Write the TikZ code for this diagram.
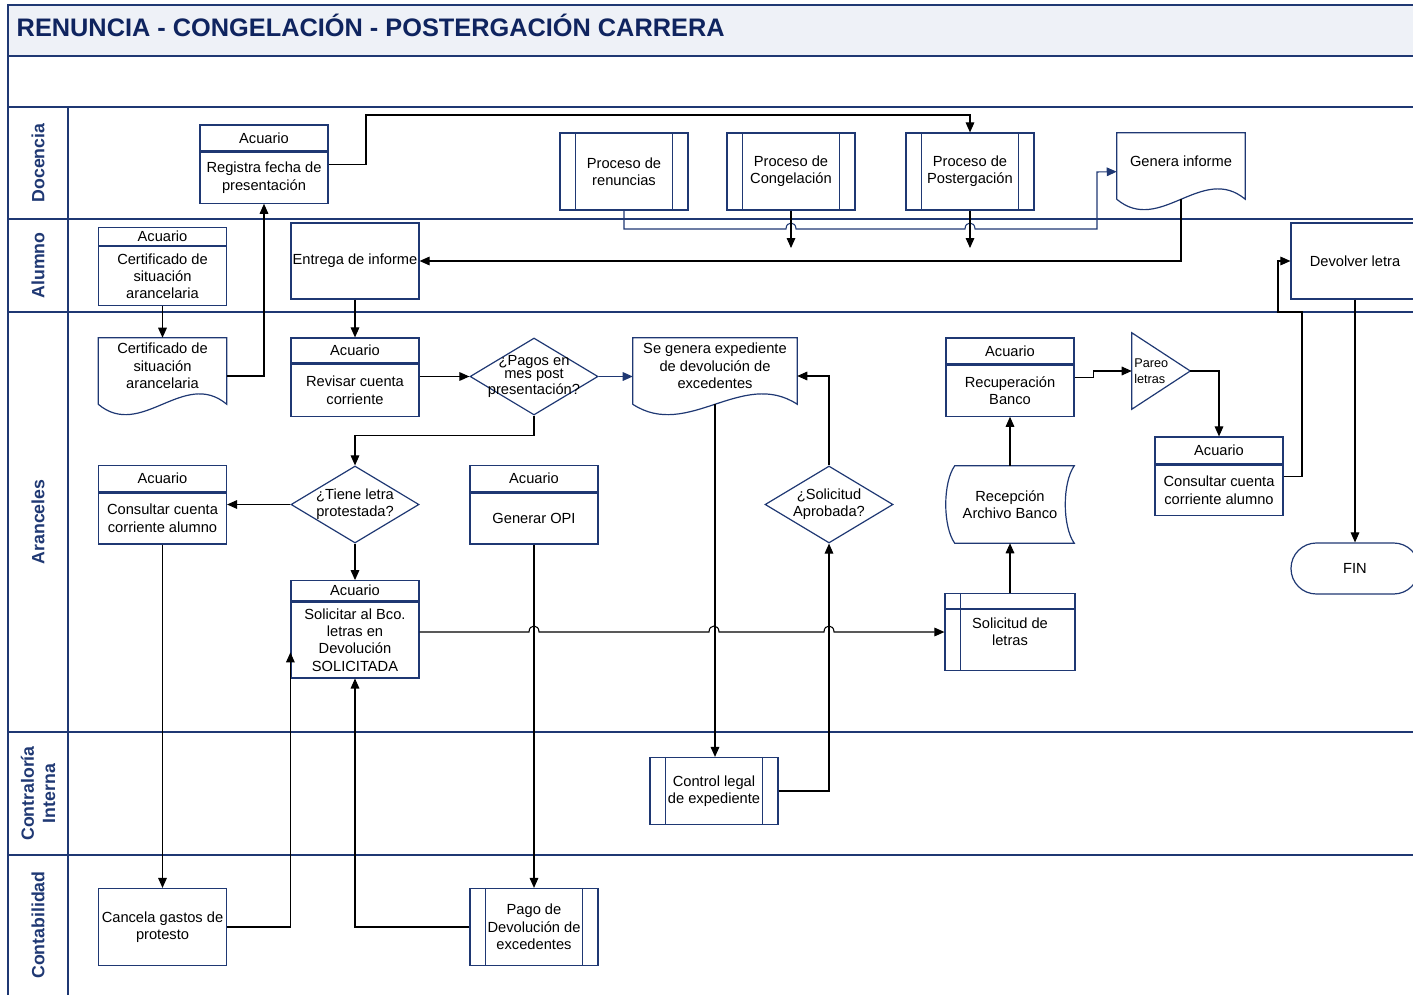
\documentclass[tikz,border=0pt]{standalone}
\usepackage{fontspec}
\setmainfont{Liberation Sans}
\usetikzlibrary{positioning,shapes.geometric,arrows.meta,calc}
\definecolor{navy}{RGB}{31,56,115}
\definecolor{titlebg}{RGB}{238,241,247}
\definecolor{titletxt}{RGB}{15,36,95}

\begin{document}
\begin{tikzpicture}[
		x=0.75pt, y=-0.75pt,
		every node/.style={font=\fontsize{11}{13}\selectfont, align=center},
		lane/.style={draw=navy, line width=1.1pt},
		lanelabel/.style={rotate=90, text=navy, font=\bfseries\fontsize{13.3}{16}\selectfont},
		shp/.style={draw=navy, line width=0.9pt},
		box/.style={shp, fill=white, minimum width=96pt, inner sep=1pt},
		hdr/.style={box, inner sep=0pt},
		proc/.style={box, minimum height=57.75pt, append after command={
				([xshift=12pt]\tikzlastnode.north west) edge[shp] ([xshift=12pt]\tikzlastnode.south west)
				([xshift=-12pt]\tikzlastnode.north east) edge[shp] ([xshift=-12pt]\tikzlastnode.south east)}},
		doc/.style={minimum width=96pt, minimum height=42pt, inner sep=1pt},
		dec/.style={diamond, shp, fill=white, minimum width=96pt, minimum height=57.75pt, inner sep=0pt},
		arr/.style={line width=0.8pt, -{Triangle[length=7.5pt,width=6.5pt]}}
	]
	\useasboundingbox (0,0) rectangle (1413,995);
	\fill[titlebg] (8,5) rectangle (1420,56);
	\draw[lane] (1420,5) -- (8,5) -- (8,1000)
		(8,56) -- (1420,56)
		(8,107) -- (1420,107)
		(8,219) -- (1420,219)
		(8,312) -- (1420,312)
		(8,732) -- (1420,732)
		(8,855) -- (1420,855)
		(68,107) -- (68,1000);
	\node[anchor=base west, align=left, text=titletxt, font=\bfseries\fontsize{19}{22}\selectfont] (title) at (12,37) {RENUNCIA - CONGELACIÓN - POSTERGACIÓN CARRERA};
	\node[lanelabel] (l-doc) at (38,163) {Docencia};
	\node[lanelabel] (l-alu) at (38,265.5) {Alumno};
	\node[lanelabel] (l-ara) at (38,522) {Aranceles};
	\node[lanelabel] (l-con) at (38,793.5) {Contraloría\\Interna};
	\node[lanelabel] (l-cnt) at (38,925) {Contabilidad};

	\node[hdr, minimum height=19.5pt] (reg-h) at (264,138) {Acuario};
	\node[box, minimum height=38.25pt, below=0pt of reg-h] (reg) {Registra fecha de\\presentación};
	\node[proc] (p1) at (624,171.5) {Proceso de\\renuncias};
	\node[proc] (p2) at (791,171.5) {Proceso de\\Congelación};
	\node[proc] (p3) at (970,171.5) {Proceso de\\Postergación};
	\node[doc] (gen) at (1181,161) {Genera informe};
	\draw[shp] ([yshift=-7.5pt]gen.south west) -- (gen.north west) -- (gen.north east) -- ([yshift=-7.5pt]gen.south east) .. controls +(-43,-36) and +(43,36) .. ([yshift=-7.5pt]gen.south west);
	\coordinate (p2-end) at (791,248);
	\coordinate (p3-end) at (970,248);

	\node[hdr, minimum height=13.5pt] (cert1-h) at (162.5,236.5) {Acuario};
	\node[box, minimum height=44.25pt, below=0pt of cert1-h] (cert1) {Certificado de\\situación\\arancelaria};
	\node[box, minimum height=57pt] (ent) at (355,261) {Entrega de informe};
	\node[box, minimum height=57pt] (dev) at (1355,261) {Devolver letra};

	\node[doc] (cert2) at (162.5,366) {Certificado de\\situación\\arancelaria};
	\draw[shp] ([yshift=-7.5pt]cert2.south west) -- (cert2.north west) -- (cert2.north east) -- ([yshift=-7.5pt]cert2.south east) .. controls +(-43,-36) and +(43,36) .. ([yshift=-7.5pt]cert2.south west);
	\node[hdr, minimum height=18.75pt] (rev-h) at (355,350.5) {Acuario};
	\node[box, minimum height=39pt, below=0pt of rev-h] (rev) {Revisar cuenta\\corriente};
	\node[dec] (pagos) at (534,376.5) {};
	\node[font=\fontsize{11}{9.75}\selectfont] (pagos-t) at (pagos) {¿Pagos en\\mes post\\presentación?};
	\node[doc, minimum width=123pt] (exp) at (715,366) {Se genera expediente\\de devolución de\\excedentes};
	\draw[shp] ([yshift=-7.5pt]exp.south west) -- (exp.north west) -- (exp.north east) -- ([yshift=-7.5pt]exp.south east) .. controls +(-55,-36) and +(55,36) .. ([yshift=-7.5pt]exp.south west);
	\node[dec] (tiene) at (355,504.5) {};
	\node (tiene-t) at (tiene) {¿Tiene letra\\protestada?};
	\node[hdr, minimum height=19.5pt] (cons1-h) at (162.5,478.7) {Acuario};
	\node[box, minimum height=38.25pt, below=0pt of cons1-h] (cons1) {Consultar cuenta\\corriente alumno};
	\node[hdr, minimum height=19.5pt] (opi-h) at (534,478.7) {Acuario};
	\node[box, minimum height=38.25pt, below=0pt of opi-h] (opi) {Generar OPI};
	\node[hdr, minimum height=15pt] (sol-h) at (355,590.7) {Acuario};
	\node[box, minimum height=57pt, below=0pt of sol-h] (sol) {Solicitar al Bco.\\letras en\\Devolución\\SOLICITADA};
	\node[dec] (solap) at (829,504.5) {};
	\node (solap-t) at (solap) {¿Solicitud\\Aprobada?};
	\node[hdr, minimum height=19.5pt] (recup-h) at (1010,351) {Acuario};
	\node[box, minimum height=38.25pt, below=0pt of recup-h] (recup) {Recuperación\\Banco};
	\node[minimum width=96pt, minimum height=57.75pt] (recep) at (1010,504.5) {Recepción\\Archivo Banco};
	\draw[shp] ([xshift=6.75pt]recep.north west) -- (recep.north east) .. controls +(-12,17) and +(-12,-17) .. (recep.south east) -- ([xshift=6.75pt]recep.south west) .. controls +(-12,-17) and +(-12,17) .. ([xshift=6.75pt]recep.north west) -- cycle;
	\node[box, minimum width=97.5pt, minimum height=57.75pt] (sol2) at (1010,632) {Solicitud de\\letras};
	\draw[shp] ([xshift=12pt]sol2.north west) -- ([xshift=12pt]sol2.south west)
		([yshift=-12pt]sol2.north west) -- ([yshift=-12pt]sol2.north east);
	\node[minimum width=43.5pt, minimum height=57pt, inner sep=1.5pt, text width=40pt, align=left, font=\fontsize{9.5}{12}\selectfont] (pareo) at (1161,371) {Pareo\\letras};
	\draw[shp] (pareo.north west) -- (pareo.east) -- (pareo.south west) -- cycle;
	\node[hdr, minimum height=20.25pt] (cons2-h) at (1219,450.5) {Acuario};
	\node[box, minimum height=37.5pt, below=0pt of cons2-h] (cons2) {Consultar cuenta\\corriente alumno};
	\node[box, minimum height=38.25pt, rounded corners=19pt] (fin) at (1355,568.5) {FIN};

	\node[proc, minimum height=50.25pt] (ctrl) at (714,791) {Control legal\\de expediente};

	\node[box, minimum height=57.75pt] (canc) at (162.5,927) {Cancela gastos de\\protesto};
	\node[proc] (pago) at (534,927) {Pago de\\Devolución de\\excedentes};

	\draw[arr] ($(reg-h.north east)!.5!(reg.south east)$) -| (366,115) -| (p3.north);
	\draw[arr, navy] (p1.south) |- (786,229) .. controls (786,221) and (796,221) .. (796,229) -- (965,229) .. controls (965,221) and (975,221) .. (975,229) -| (1097,172) -- ([yshift=-8pt]gen.west);
	\draw[arr] (p2.south) -- (p2-end);
	\draw[arr] (p3.south) -- (p3-end);
	\draw[arr] ([yshift=-7.5pt]gen.south) |- (ent.east);
	\draw[arr] (cert1.south) -- (cert2.north);
	\draw[arr] ([yshift=-7.5pt]cert2.east) -| (reg.south);
	\draw[arr] (ent.south) -- (rev-h.north);
	\draw[arr] (rev.east |- pagos) -- (pagos.west);
	\draw[arr, navy] (pagos.east) -- (exp.west |- pagos);
	\draw[arr] (pagos.south) -- ++(0,20) -| (tiene.north);
	\draw[arr] (tiene.west) -- (cons1.east |- tiene);
	\draw[arr] (tiene.south) -- (sol-h.north);
	\draw[arr] (cons1.south) -- (canc.north);
	\draw[arr] (canc.east) -| ([yshift=-9.4pt]sol.west);
	\draw[arr] (pago.west) -| (sol.south);
	\draw[arr] (opi.south) -- (pago.north);
	\draw[arr] (sol.east |- sol2) -- (529,632) .. controls (529,624) and (539,624) .. (539,632) -- (709,632) .. controls (709,624) and (719,624) .. (719,632) -- (824,632) .. controls (824,624) and (834,624) .. (834,632) -- (sol2.west);
	\draw[arr] ([yshift=-7.5pt]exp.south) -- (exp.south |- ctrl.north);
	\draw[arr] (ctrl.east) -| (solap.south);
	\draw[arr] (solap.north) |- ([yshift=-7.5pt]exp.east);
	\draw[arr] (sol2.north) -- (recep.south);
	\draw[arr] (recep.north) -- (recup.south);
	\draw[arr] ($(recup-h.north east)!.5!(recup.south east)$) -- ++(19,0) |- (pareo.west);
	\draw[arr] (pareo.east) -| (cons2-h.north);
	\draw[arr] ($(cons2-h.north east)!.5!(cons2.south east)$) -| (1302,312) -- (1278,312) |- (dev.west);
	\draw[arr] (dev.south) -- (fin.north);
\end{tikzpicture}
\end{document}
